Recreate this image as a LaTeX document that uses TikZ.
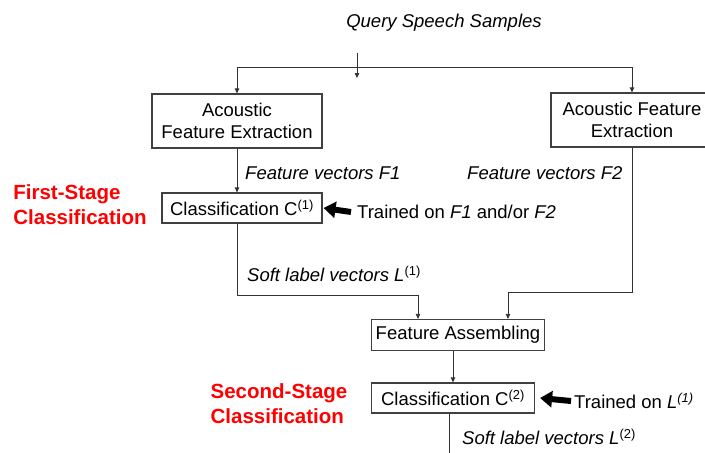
\documentclass[tikz,border=0pt]{standalone}
\usepackage{fontspec}
\setmainfont{Liberation Sans}
\usetikzlibrary{arrows.meta, positioning}
\tikzstyle{arrow}=[-{Triangle[length=5pt,width=4.5pt]}, line width=0.8pt, color=black!80]
\tikzstyle{fat}=[-{Triangle[length=12pt,width=16pt]}, line width=6pt, color=black]

\begin{document}
\begin{tikzpicture}[x=1pt, y=-1pt,
  box/.style={rectangle, draw=black!75, line width=1.2pt, align=center,
              inner sep=0pt, font=\fontsize{18.5}{22}\selectfont},
  lbl/.style={font=\fontsize{18.5}{22}\selectfont\itshape, inner sep=0pt},
  note/.style={font=\fontsize{18.5}{22}\selectfont, inner sep=0pt},
  stage/.style={font=\fontsize{20.5}{25}\selectfont\bfseries, text=red,
                align=left, inner sep=0pt}
]
\useasboundingbox (0,0) rectangle (705,453);

% Input and split
\node[lbl] (query) at (444,23) {Query Speech Samples};
\coordinate (qtop) at (357,53);
\coordinate (qbot) at (357,78);
\coordinate (hub) at (357,67);

% Feature extraction branches
\node[box, minimum width=170, minimum height=54] (afe1) at (237,121) {Acoustic\\Feature Extraction};
\node[box, minimum width=162, minimum height=54] (afe2) at (632,120) {Acoustic Feature\\Extraction};
\node[lbl, anchor=west] (fv1) at (245,173) {Feature vectors F1};
\node[lbl, anchor=west] (fv2) at (467,173) {Feature vectors F2};

% First stage
\node[stage] (stage1) at (80,205) {First-Stage\\Classification};
\node[box, minimum width=160, minimum height=30] (c1) at (242,208) {Classification C\textsuperscript{(1)}};
\node[note, anchor=west] (train1) at (357,212) {Trained on \textit{F1} and/or \textit{F2}};
\node[lbl, anchor=west] (sl1) at (247,274) {Soft label vectors L\textsuperscript{\upshape(1)}};
\coordinate (m1) at (418,295);
\coordinate (m2) at (508,292);

% Second stage
\node[box, minimum width=173, minimum height=31] (fa) at (458,335) {Feature Assembling};
\node[stage] (stage2) at (279,404) {Second-Stage\\Classification};
\node[box, minimum width=163, minimum height=30] (c2) at (453,398) {Classification C\textsuperscript{(2)}};
\node[note, anchor=west] (train2) at (574,401) {Trained on \textit{L\textsuperscript{(1)}}};
\node[lbl, anchor=west] (sl2) at (462,437) {Soft label vectors L\textsuperscript{\upshape(2)}};
\coordinate (out) at (449,460);

\draw[arrow] (qtop) -- (qbot);
\draw[arrow] (hub) -| (afe1.north);
\draw[arrow] (hub) -| (afe2.north);
\draw[arrow] (afe1.south) -- (afe1.south |- c1.north);
\draw[arrow] (afe1.south |- c1.south) |- (m1) -- (m1 |- fa.north);
\draw[arrow] (afe2.south) |- (m2) -- (m2 |- fa.north);
\draw[arrow] (c2.north |- fa.south) -- (c2.north);
\draw[arrow, -] (out |- c2.south) -- (out);
\draw[fat] ([xshift=-6pt]train1.west) -- ([xshift=1pt]c1.east);
\draw[fat] ([xshift=-3pt]train2.west) -- ([xshift=5pt]c2.east);
\end{tikzpicture}
\end{document}
